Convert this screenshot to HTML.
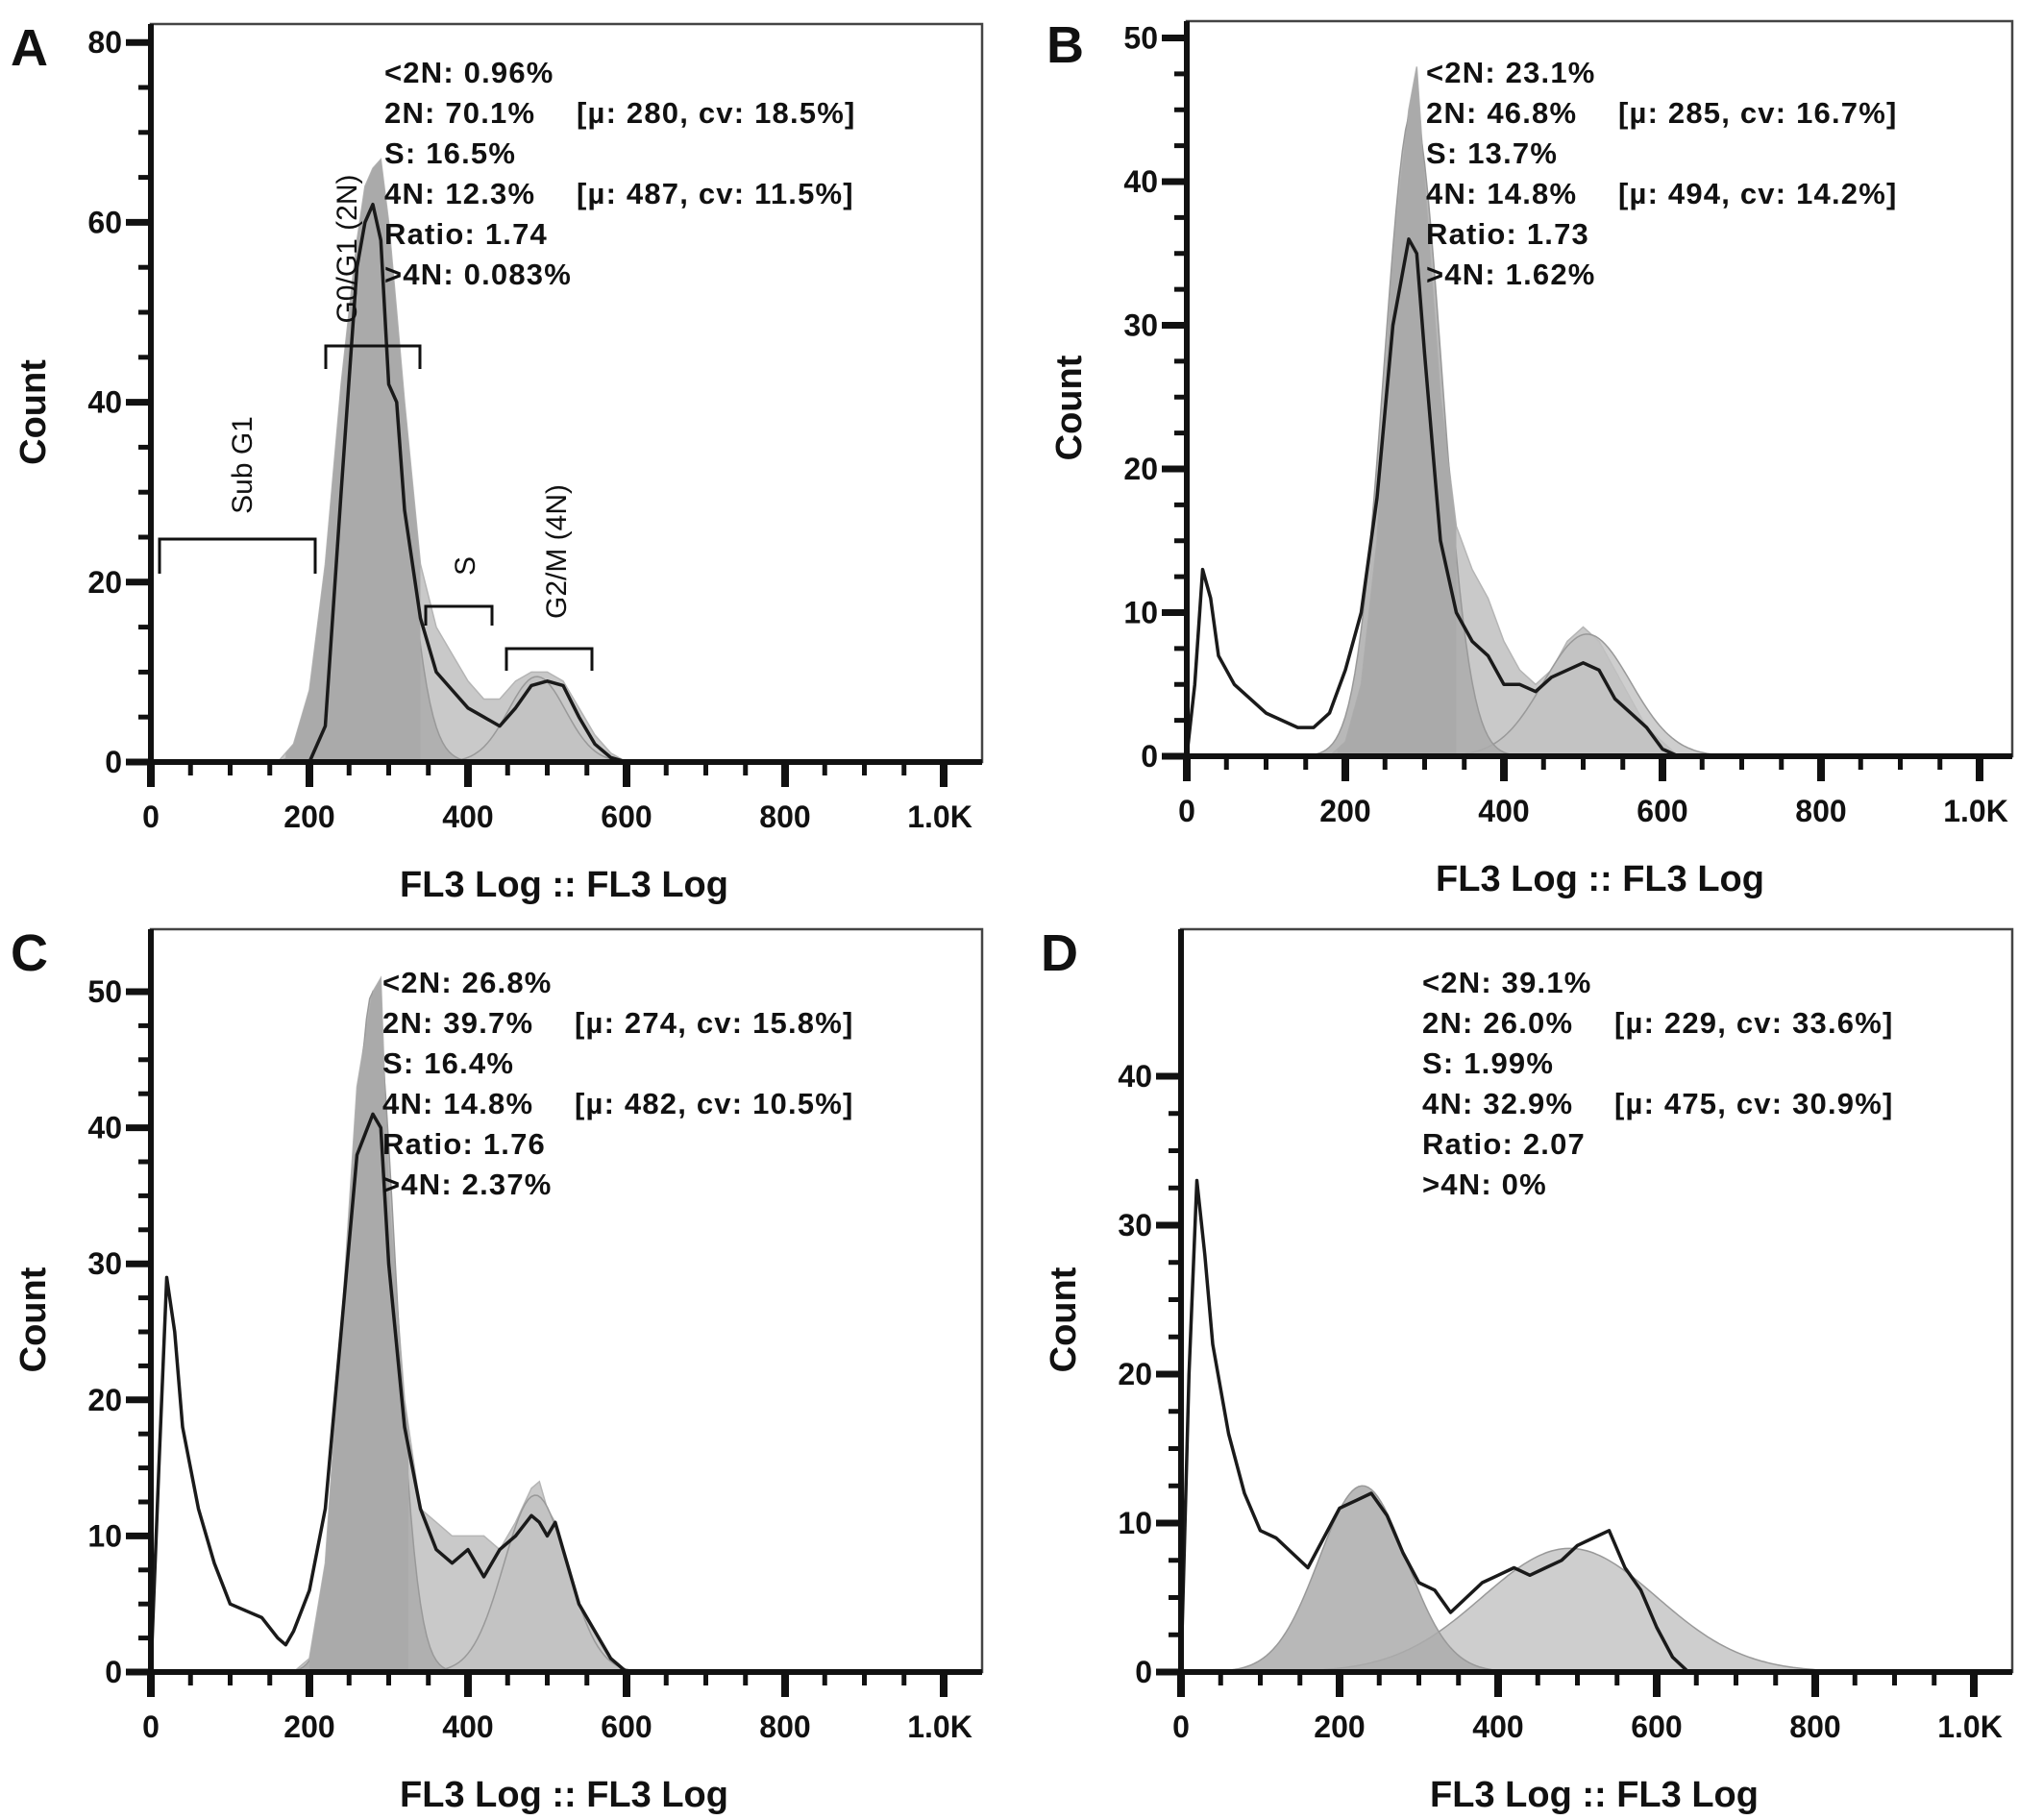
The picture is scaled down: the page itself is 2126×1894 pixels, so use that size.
<!DOCTYPE html>
<html><head><meta charset="utf-8"><style>
html,body{margin:0;padding:0;background:#fff;}
svg{display:block;}
text{font-family:"Liberation Sans",Arial,sans-serif;}
.tk{font-size:32px;font-weight:bold;fill:#111;}
.ann{font-size:31px;font-weight:bold;fill:#111;letter-spacing:1.2px;}
.ttl{font-size:38px;font-weight:bold;fill:#111;}
.lt{font-size:54px;font-weight:bold;fill:#111;}
.gl{font-size:30px;fill:#111;}
</style></head><body>
<svg id="fig" width="2126" height="1894" viewBox="0 0 2126 1894" xmlns="http://www.w3.org/2000/svg"></svg>
<script>
// ---- data (x in FL3 units, y in counts) ----
const xTickLabels = ["0","200","400","600","800","1.0K"];
const xTickValues = [0,200,400,600,800,1000];

const aX    = [0,160,180,200,220,240,260,270,280,290,300,310,320,340,360,380,400,420,440,460,480,500,520,540,560,580,600,620];
const aHist = [0,0,2,8,22,42,58,64,66,67,60,50,40,22,15,12,9,7,7,9,10,10,9,6,3,1,0,0];
const aLine = [0,0,0,0,4,30,55,60,62,58,42,40,28,16,10,8,6,5,4,6,8.5,9,8.5,5,2,0.5,0,0];
const aFitMean=[280,487], aFitPeak=[62,9.5], aFitSd=[34,36];
const aGate=[170,340];

const bX    = [0,10,20,30,40,60,80,100,120,140,160,180,200,220,240,260,280,290,300,320,340,360,380,400,420,440,460,480,500,520,540,560,580,600,620,640];
const bHist = [0,0,0,0,0,0,0,0,0,0,0,0,1,5,15,35,45,48,40,25,16,13,11,8,6,5,6,8,9,8,6,4,2,1,0,0];
const bLine = [0,5,13,11,7,5,4,3,2.5,2,2,3,6,10,18,30,36,35,28,15,10,8,7,5,5,4.5,5.5,6,6.5,6,4,3,2,0.5,0,0];
const bFitMean=[285,505], bFitPeak=[45,8.5], bFitSd=[36,55];
const bGate=[190,340];

const cX    = [0,10,20,30,40,60,80,100,120,140,160,170,180,200,220,240,260,280,290,300,320,340,360,380,400,420,440,460,480,490,500,510,520,540,560,580,600,620];
const cHist = [0,0,0,0,0,0,0,0,0,0,0,0,0,1,8,25,43,50,51,35,20,12,11,10,10,10,9,11,13.5,14,12,11,9,5,3,1,0,0];
const cLine = [0,15,29,25,18,12,8,5,4.5,4,2.5,2,3,6,12,25,38,41,40,30,18,12,9,8,9,7,9,10,11.5,11,10,11,9,5,3,1,0,0];
const cFitMean=[280,485], cFitPeak=[50,13], cFitSd=[28,40];
const cGate=[200,325];

const dX    = [0,10,20,30,40,60,80,100,120,140,160,180,200,220,240,260,280,300,320,340,360,380,400,420,440,460,480,500,520,540,560,580,600,620,640,660];
const dHist = [0,0,0,0,0,0,0,0,0,0,0,0,0,0,0,0,0,0,0,0,0,0,0,0,0,0,0,0,0,0,0,0,0,0,0,0];
const dLine = [0,20,33,28,22,16,12,9.5,9,8,7,9,11,11.5,12,10.5,8,6,5.5,4,5,6,6.5,7,6.5,7,7.5,8.5,9,9.5,7,5.5,3,1,0,0];
const dFitMean=[229,490], dFitPeak=[12.5,8.3], dFitSd=[55,110];
const dGate=null;

const panels = [
 {id:"a",letter:"A",left:157,top:25,w:865,y0:793,py:9.36,yMax:80,yMajor:20,yMinor:5,x:aX,hist:aHist,line:aLine,fm:aFitMean,fp:aFitPeak,fs:aFitSd,gate:aGate,tx:400,ty:86,
  ann:[["<2N: 0.96%",""],["2N: 70.1%","[µ: 280, cv: 18.5%]"],["S: 16.5%",""],["4N: 12.3%","[µ: 487, cv: 11.5%]"],["Ratio: 1.74",""],[">4N: 0.083%",""]]},
 {id:"b",letter:"B",left:1235,top:22,w:859,y0:787,py:14.95,yMax:50,yMajor:10,yMinor:2.5,x:bX,hist:bHist,line:bLine,fm:bFitMean,fp:bFitPeak,fs:bFitSd,gate:bGate,tx:1484,ty:86,
  ann:[["<2N: 23.1%",""],["2N: 46.8%","[µ: 285, cv: 16.7%]"],["S: 13.7%",""],["4N: 14.8%","[µ: 494, cv: 14.2%]"],["Ratio: 1.73",""],[">4N: 1.62%",""]]},
 {id:"c",letter:"C",left:157,top:967,w:865,y0:1740,py:14.16,yMax:50,yMajor:10,yMinor:2.5,x:cX,hist:cHist,line:cLine,fm:cFitMean,fp:cFitPeak,fs:cFitSd,gate:cGate,tx:398,ty:1033,
  ann:[["<2N: 26.8%",""],["2N: 39.7%","[µ: 274, cv: 15.8%]"],["S: 16.4%",""],["4N: 14.8%","[µ: 482, cv: 10.5%]"],["Ratio: 1.76",""],[">4N: 2.37%",""]]},
 {id:"d",letter:"D",left:1229,top:967,w:865,y0:1740,py:15.5,yMax:40,yMajor:10,yMinor:2.5,x:dX,hist:dHist,line:dLine,fm:dFitMean,fp:dFitPeak,fs:dFitSd,gate:dGate,tx:1480,ty:1033,
  ann:[["<2N: 39.1%",""],["2N: 26.0%","[µ: 229, cv: 33.6%]"],["S: 1.99%",""],["4N: 32.9%","[µ: 475, cv: 30.9%]"],["Ratio: 2.07",""],[">4N: 0%",""]]}
];

const NS="http://www.w3.org/2000/svg";
const svg=document.getElementById("fig");
function mk(tag,attrs,parent){const e=document.createElementNS(NS,tag);for(const k in attrs)e.setAttribute(k,attrs[k]);(parent||svg).appendChild(e);return e;}
const defs=mk("defs",{});

panels.forEach(p=>{
  const g=mk("g",{});
  
  
  const sx=v=>p.left+v*0.825;
  const sy=v=>p.y0-v*p.py;
  const right=p.left+p.w;
  const fr=mk("rect",{x:p.left,y:p.top,width:p.w,height:p.y0-p.top,fill:"#fff",stroke:"#444","stroke-width":2.5},g);
  
  
  let d="M"+sx(p.x[0])+","+sy(0);
  p.x.forEach((x,i)=>{d+=" L"+sx(x).toFixed(1)+","+sy(p.hist[i]).toFixed(1);});
  d+=" L"+sx(p.x[p.x.length-1])+","+sy(0)+" Z";
  const hf=mk("path",{d:d,fill:"#c9c9c9",stroke:"#b5b5b5","stroke-width":1.5},g);
  
  
  const fitCols=["#acacac","#c2c2c2"];
  [1,0].forEach(k=>{
    let fd="";
    for(let x=0;x<=900;x+=4){
      const v=p.fp[k]*Math.exp(-0.5*Math.pow((x-p.fm[k])/p.fs[k],2));
      fd+=(fd?" L":"M")+sx(x).toFixed(1)+","+sy(v).toFixed(1);
    }
    fd+=" L"+sx(900)+","+sy(0)+" L"+sx(0)+","+sy(0)+" Z";
    const fp=mk("path",{d:fd,fill:fitCols[k],"fill-opacity":k==0?0.85:0.8,stroke:"#999","stroke-width":1.5},g);
    
    
  });
  if(p.gate){
    const cp=mk("clipPath",{id:"gc"+p.id},defs);
    mk("rect",{x:sx(p.gate[0]),y:p.top,width:sx(p.gate[1])-sx(p.gate[0]),height:p.y0-p.top},cp);
    const gf=mk("path",{d:d,fill:"#aaaaaa","clip-path":`url(#gc${p.id})`},g);
    
    
  }
  let ld="";
  p.x.forEach((x,i)=>{ld+=(i?" L":"M")+sx(x).toFixed(1)+","+sy(p.line[i]).toFixed(1);});
  const ln=mk("path",{d:ld,fill:"none",stroke:"#1a1a1a","stroke-width":3.5,"stroke-linejoin":"round"},g);
  
  
  const ax=mk("path",{d:`M${p.left},${p.top} L${p.left},${p.y0} L${right},${p.y0}`,fill:"none",stroke:"#111","stroke-width":6},g);
  
  
  for(let v=0;v<=p.yMax+0.01;v+=p.yMinor){
    const maj=Math.abs(v/p.yMajor-Math.round(v/p.yMajor))<1e-6;
    mk("line",{x1:p.left,x2:p.left-(maj?26:13),y1:sy(v),y2:sy(v),stroke:"#111","stroke-width":maj?7:5},g);
    if(maj){const t=mk("text",{x:p.left-30,y:sy(v)+11,"text-anchor":"end",class:"tk"},g);t.textContent=String(v);
      
      }
  }
  for(let v=0;v<=1000;v+=50){
    const maj=v%200==0;
    mk("line",{x1:sx(v),x2:sx(v),y1:p.y0,y2:p.y0+(maj?26:14),stroke:"#111","stroke-width":maj?8:5},g);
  }
  xTickValues.forEach((v,i)=>{
    const t=mk("text",{x:sx(v)+(i==5?-4:0),y:p.y0+68,"text-anchor":"middle",class:"tk"},g);t.textContent=xTickLabels[i];
    
    
  });
  const xt=mk("text",{x:p.left+430,y:p.y0+140,"text-anchor":"middle",class:"ttl"},g);xt.textContent="FL3 Log :: FL3 Log";
  
  
  const cy=(p.top+p.y0)/2+20;
  const yt=mk("text",{x:p.left-110,y:cy,"text-anchor":"middle",class:"ttl",transform:`rotate(-90 ${p.left-110} ${cy})`},g);yt.textContent="Count";
  
  
  const lt=mk("text",{x:p.left-146,y:p.top+43,class:"lt"},g);lt.textContent=p.letter;
  
  
  p.ann.forEach((r,i)=>{
    const t1=mk("text",{x:p.tx,y:p.ty+i*42,class:"ann"},g);t1.textContent=r[0];
    
    
    if(r[1]){const t2=mk("text",{x:p.tx+200,y:p.ty+i*42,class:"ann"},g);t2.textContent=r[1];
      
      }
  });
});

const gates=[
 {name:"sub-g1",x1:166,x2:328,y:561,d:36,lab:"Sub G1",lx:252,ly:484},
 {name:"g0-g1",x1:339,x2:437,y:360,d:24,lab:"G0/G1 (2N)",lx:361,ly:259},
 {name:"s",x1:443,x2:512,y:631,d:20,lab:"S",lx:484,ly:589},
 {name:"g2-m",x1:527,x2:616,y:675,d:23,lab:"G2/M (4N)",lx:579,ly:574}
];
gates.forEach(b=>{
  const br=mk("path",{d:`M${b.x1},${b.y+b.d} L${b.x1},${b.y} L${b.x2},${b.y} L${b.x2},${b.y+b.d}`,fill:"none",stroke:"#111","stroke-width":3});
  
  
  const t=mk("text",{x:b.lx,y:b.ly,"text-anchor":"middle",class:"gl",transform:`rotate(-90 ${b.lx} ${b.ly})`,dy:"10"});
  t.textContent=b.lab;
  
  
});
</script>
</body></html>
